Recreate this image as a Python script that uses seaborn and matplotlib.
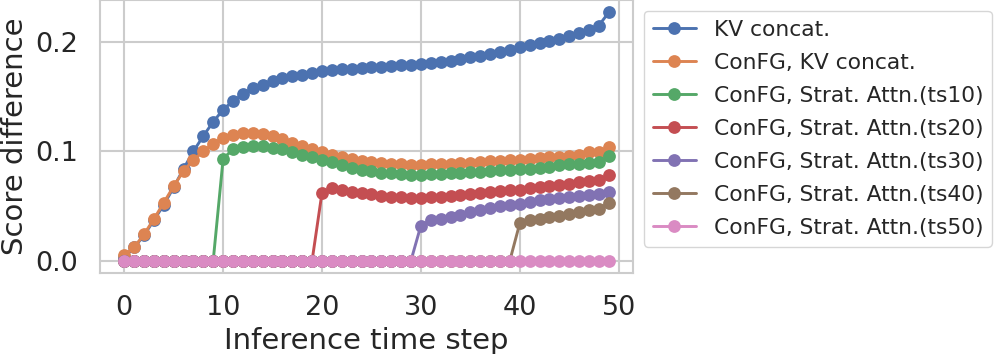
import pandas as pd
import matplotlib
matplotlib.use("Agg")
import matplotlib.pyplot as plt
import seaborn as sns

# dados
steps = list(range(50))

kv_concat = [0.003, 0.012, 0.023, 0.037, 0.051, 0.067, 0.084, 0.100, 0.114, 0.127,
             0.138, 0.146, 0.152, 0.158, 0.161, 0.164, 0.167, 0.169, 0.170, 0.172,
             0.173, 0.174, 0.175, 0.175, 0.176, 0.177, 0.177, 0.178, 0.179, 0.179,
             0.180, 0.181, 0.182, 0.183, 0.184, 0.186, 0.187, 0.189, 0.191, 0.193,
             0.195, 0.197, 0.199, 0.201, 0.203, 0.205, 0.208, 0.211, 0.215, 0.227]

confg_kv = [0.005, 0.012, 0.024, 0.038, 0.053, 0.068, 0.082, 0.092, 0.100, 0.107,
            0.112, 0.115, 0.117, 0.117, 0.116, 0.114, 0.111, 0.108, 0.105, 0.102,
            0.099, 0.097, 0.095, 0.093, 0.091, 0.090, 0.089, 0.088, 0.088, 0.087,
            0.087, 0.088, 0.088, 0.088, 0.089, 0.089, 0.090, 0.091, 0.091, 0.092,
            0.092, 0.093, 0.094, 0.095, 0.095, 0.096, 0.097, 0.099, 0.099, 0.104]

strat_ts10 = [0.0, 0.0, 0.0, 0.0, 0.0, 0.0, 0.0, 0.0, 0.0, 0.0,
              0.093, 0.102, 0.104, 0.105, 0.105, 0.103, 0.102, 0.099, 0.097, 0.095,
              0.092, 0.090, 0.087, 0.085, 0.083, 0.082, 0.080, 0.080, 0.079, 0.078,
              0.078, 0.079, 0.079, 0.080, 0.080, 0.081, 0.081, 0.082, 0.083, 0.083,
              0.084, 0.084, 0.085, 0.086, 0.087, 0.088, 0.088, 0.089, 0.090, 0.096]

strat_ts20 = [0.0, 0.0, 0.0, 0.0, 0.0, 0.0, 0.0, 0.0, 0.0, 0.0,
              0.0, 0.0, 0.0, 0.0, 0.0, 0.0, 0.0, 0.0, 0.0, 0.0,
              0.062, 0.066, 0.065, 0.063, 0.062, 0.061, 0.059, 0.058, 0.058, 0.057,
              0.057, 0.058, 0.058, 0.059, 0.060, 0.061, 0.062, 0.063, 0.064, 0.065,
              0.065, 0.066, 0.067, 0.068, 0.069, 0.070, 0.072, 0.073, 0.074, 0.078]

strat_ts30 = [0.0, 0.0, 0.0, 0.0, 0.0, 0.0, 0.0, 0.0, 0.0, 0.0,
              0.0, 0.0, 0.0, 0.0, 0.0, 0.0, 0.0, 0.0, 0.0, 0.0,
              0.0, 0.0, 0.0, 0.0, 0.0, 0.0, 0.0, 0.0, 0.0, 0.0,
              0.032, 0.037, 0.038, 0.040, 0.042, 0.044, 0.046, 0.048, 0.050, 0.051,
              0.052, 0.054, 0.055, 0.056, 0.057, 0.058, 0.059, 0.060, 0.061, 0.063]

strat_ts40 = [0.0, 0.0, 0.0, 0.0, 0.0, 0.0, 0.0, 0.0, 0.0, 0.0,
              0.0, 0.0, 0.0, 0.0, 0.0, 0.0, 0.0, 0.0, 0.0, 0.0,
              0.0, 0.0, 0.0, 0.0, 0.0, 0.0, 0.0, 0.0, 0.0, 0.0,
              0.0, 0.0, 0.0, 0.0, 0.0, 0.0, 0.0, 0.0, 0.0, 0.0,
              0.034, 0.037, 0.038, 0.040, 0.041, 0.043, 0.044, 0.046, 0.047, 0.053]

strat_ts50 = [0.0, 0.0, 0.0, 0.0, 0.0, 0.0, 0.0, 0.0, 0.0, 0.0,
              0.0, 0.0, 0.0, 0.0, 0.0, 0.0, 0.0, 0.0, 0.0, 0.0,
              0.0, 0.0, 0.0, 0.0, 0.0, 0.0, 0.0, 0.0, 0.0, 0.0,
              0.0, 0.0, 0.0, 0.0, 0.0, 0.0, 0.0, 0.0, 0.0, 0.0,
              0.0, 0.0, 0.0, 0.0, 0.0, 0.0, 0.0, 0.0, 0.0, 0.0]

labels = ['KV concat.', 'ConFG, KV concat.',
          'ConFG, Strat. Attn.(ts10)', 'ConFG, Strat. Attn.(ts20)',
          'ConFG, Strat. Attn.(ts30)', 'ConFG, Strat. Attn.(ts40)',
          'ConFG, Strat. Attn.(ts50)']
series = [kv_concat, confg_kv, strat_ts10, strat_ts20, strat_ts30, strat_ts40, strat_ts50]

sns.set_theme(style='whitegrid', palette='deep')
plt.rcParams['axes.edgecolor'] = '#cccccc'
plt.rcParams['grid.color'] = '#cccccc'

cores = sns.color_palette('deep')

fig = plt.figure(figsize=(9.96, 3.54), dpi=100)
ax = fig.add_axes([0.1004, 0.2288, 0.5351, 0.7712])

for i, (nome, vals) in enumerate(zip(labels, series)):
    sns.lineplot(x=steps, y=vals, ax=ax, color=cores[i], label=nome,
                 marker='o', markersize=9.2, markeredgewidth=0, linewidth=2.1)

ax.set_xlabel('Inference time step', fontsize=21)
ax.set_ylabel('Score difference', fontsize=21)
ax.tick_params(axis='both', labelsize=19.5, pad=10)
ax.set_xticks([0, 10, 20, 30, 40, 50])
ax.set_yticks([0.0, 0.1, 0.2])
for s in ax.spines.values():
    s.set_linewidth(1.5)
ax.grid(linewidth=1.5)

ax.legend(loc='upper left', bbox_to_anchor=(1.0, 1.0), fontsize=15.7,
          frameon=True, edgecolor='#cccccc', labelspacing=0.6)

plt.savefig('out.png', dpi=100)
